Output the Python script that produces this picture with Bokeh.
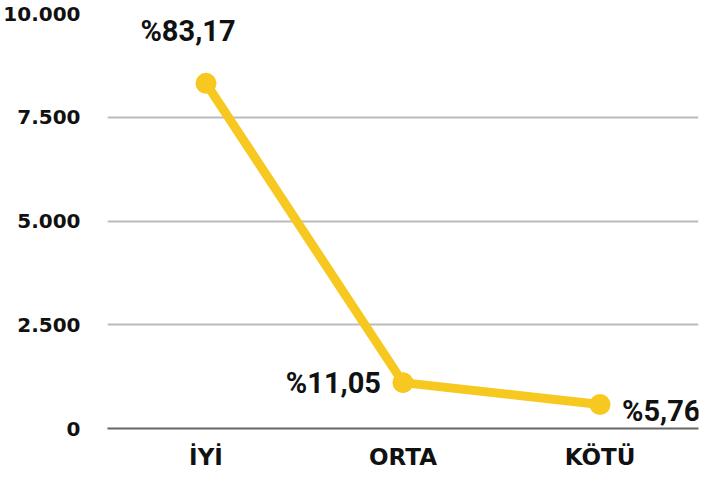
from bokeh.plotting import figure
from bokeh.models import Range1d, FixedTicker, ColumnDataSource
from bokeh.core.properties import value
from bokeh.embed import file_html
from bokeh.resources import INLINE

categories = ["İYİ", "ORTA", "KÖTÜ"]
values = [8317, 1105, 576]
pct_labels = ["%83,17", "%11,05", "%5,76"]
y_ticks = [0, 2500, 5000, 7500, 10000]
y_tick_labels = ["0", "2.500", "5.000", "7.500", "10.000"]

FONT = "DejaVu Sans"
LABEL_FONT = "Roboto"
YELLOW = "#F6C820"

p = figure(width=702, height=472, x_range=categories, y_range=Range1d(0, 10000),
           output_backend="svg", toolbar_location=None,
           min_border_left=105, min_border_right=4, min_border_top=13, min_border_bottom=40)
p.outline_line_color = None
p.background_fill_color = "white"

src = ColumnDataSource(dict(x=categories, y=values, t=pct_labels))
p.line("x", "y", source=src, line_color=YELLOW, line_width=9, line_join="round")
p.scatter("x", "y", source=src, size=21, fill_color=YELLOW, line_color=None)

# labels
offsets = [(-18, -52, "center"), (-22, 0, "right"), (22, 6, "left")]
for i, (dx, dy, al) in enumerate(offsets):
    s = ColumnDataSource(dict(x=[categories[i]], y=[values[i]], t=[pct_labels[i]]))
    p.text("x", "y", text="t", source=s, x_offset=dx, y_offset=dy,
           text_align=al, text_baseline="middle", text_font=value(LABEL_FONT),
           text_font_style="bold", text_font_size="29px", text_color="#111111")

p.yaxis.ticker = FixedTicker(ticks=y_ticks)
p.yaxis.major_label_overrides = {t: l for t, l in zip(y_ticks, y_tick_labels)}
p.yaxis.axis_line_color = None
p.yaxis.major_tick_line_color = None
p.yaxis.minor_tick_line_color = None
p.yaxis.major_label_standoff = 21
p.yaxis.major_label_text_font = FONT
p.yaxis.major_label_text_font_style = "bold"
p.yaxis.major_label_text_font_size = "20px"
p.yaxis.major_label_text_color = "#111111"

p.xaxis.axis_line_color = "#666666"
p.xaxis.axis_line_width = 2
p.xaxis.major_tick_line_color = None
p.xaxis.minor_tick_line_color = None
p.xaxis.major_label_standoff = 9
p.xaxis.major_label_text_font = FONT
p.xaxis.major_label_text_font_style = "bold"
p.xaxis.major_label_text_font_size = "23px"
p.xaxis.major_label_text_color = "#111111"

p.xgrid.grid_line_color = None
p.ygrid.grid_line_color = "#BBBBBB"
p.ygrid.grid_line_width = 2

open("out.html", "w").write(file_html(p, INLINE))
